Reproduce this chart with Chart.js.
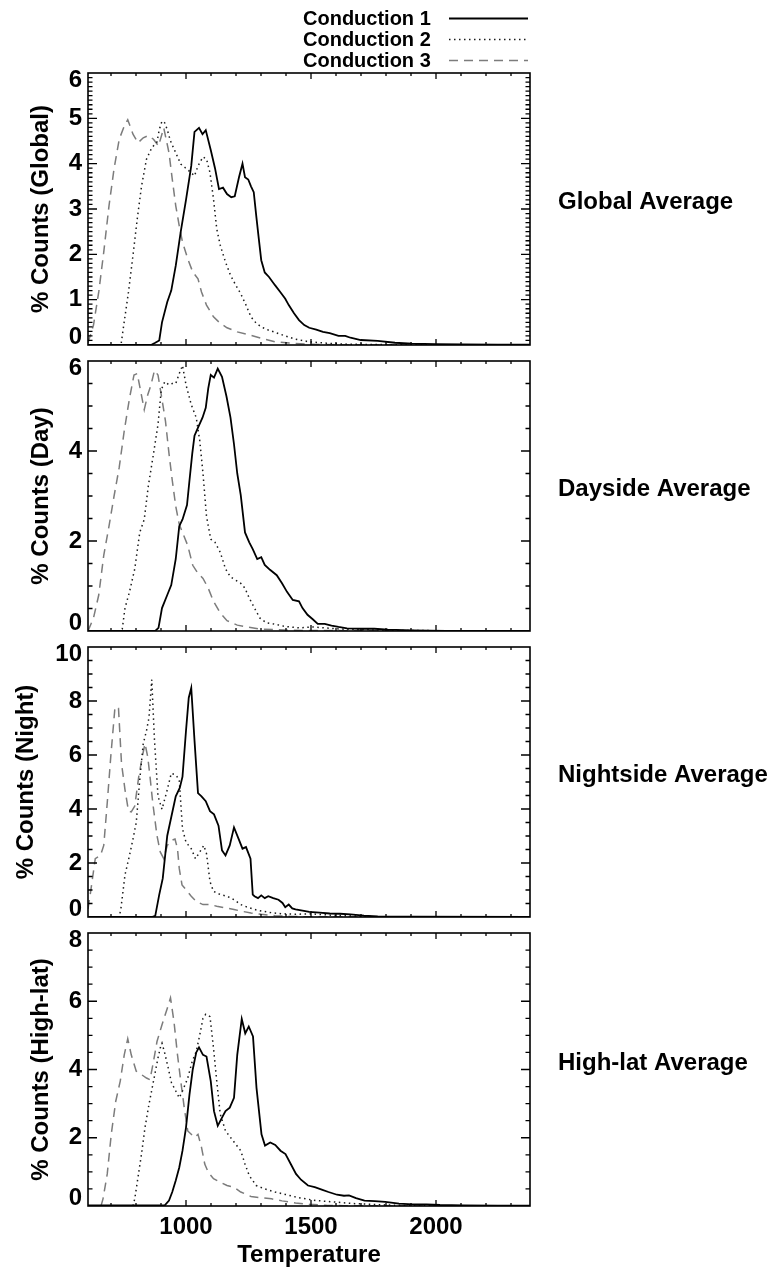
<!DOCTYPE html>
<html>
<head>
<meta charset="utf-8">
<script src="https://cdn.jsdelivr.net/npm/chart.js@4.4.1/dist/chart.umd.min.js"></script>
<style>
  html, body { margin: 0; padding: 0; background: #fff; }
  body { width: 772px; height: 1273px; position: relative; overflow: hidden; }
  canvas { position: absolute; left: 0; }
</style>
</head>
<body>
<canvas id="panelGlobal"></canvas>
<canvas id="panelDay"></canvas>
<canvas id="panelNight"></canvas>
<canvas id="panelHigh"></canvas>
<script>
// Temperature histograms, [temperature (K), % counts] per conduction case.
const seriesNames = ['Conduction 1', 'Conduction 2', 'Conduction 3'];
const panelTitles = ['% Counts (Global)', '% Counts (Day)', '% Counts (Night)', '% Counts (High-lat)'];
const panelNames = ['Global Average', 'Dayside Average', 'Nightside Average', 'High-lat Average'];
const xTickValues = [1000, 1500, 2000];

const global1 = [[608,0],[860,0],[877,0.05],[893,0.1],[904,0.5],[925,0.95],[941,1.2],[959,1.75],[979,2.5],[1000,3.2],[1021,3.95],[1034,4.7],[1052,4.79],[1066,4.65],[1079,4.74],[1099,4.3],[1116,3.9],[1132,3.44],[1148,3.47],[1164,3.33],[1181,3.26],[1195,3.28],[1212,3.7],[1226,4.0],[1236,3.7],[1249,3.65],[1260,3.5],[1271,3.37],[1281,2.85],[1290,2.4],[1301,1.87],[1315,1.6],[1332,1.5],[1356,1.32],[1377,1.17],[1397,1.02],[1411,0.88],[1432,0.7],[1452,0.55],[1473,0.44],[1493,0.38],[1521,0.34],[1548,0.29],[1575,0.26],[1610,0.2],[1637,0.2],[1658,0.16],[1699,0.11],[1767,0.09],[1836,0.05],[1904,0.03],[2000,0.02],[2110,0.015],[2247,0.01],[2376,0.005]];
const global2 = [[608,0],[740,0],[751,0.44],[770,1.17],[788,1.98],[805,2.78],[822,3.5],[842,4.1],[863,4.35],[884,4.48],[893,4.75],[904,4.94],[915,4.9],[925,4.75],[938,4.5],[959,4.24],[979,3.99],[997,3.91],[1021,3.8],[1034,3.73],[1048,3.95],[1068,4.15],[1082,4.1],[1096,3.8],[1110,3.22],[1123,2.56],[1137,2.2],[1158,1.83],[1178,1.54],[1199,1.32],[1219,1.13],[1240,0.88],[1260,0.62],[1281,0.48],[1301,0.4],[1329,0.33],[1356,0.28],[1397,0.2],[1438,0.13],[1493,0.07],[1562,0.04],[1630,0.02],[1767,0.01],[1904,0.005],[2376,0]];
const global3 = [[608,0.05],[630,0.44],[651,1.17],[671,2.05],[692,3.07],[712,3.88],[733,4.54],[753,4.83],[767,4.97],[788,4.65],[808,4.46],[829,4.57],[849,4.62],[870,4.54],[890,4.39],[911,4.79],[932,4.24],[945,3.66],[959,3.07],[973,2.63],[986,2.27],[1007,1.9],[1027,1.61],[1048,1.46],[1062,1.17],[1082,0.88],[1110,0.62],[1137,0.48],[1164,0.38],[1205,0.29],[1247,0.23],[1301,0.15],[1356,0.07],[1425,0.04],[1493,0.015],[1630,0.005],[2376,0]];

const day1 = [[608,0],[877,0],[890,0.07],[904,0.51],[925,0.8],[941,1.02],[959,1.6],[973,2.33],[986,2.48],[1004,2.8],[1014,3.35],[1025,3.94],[1034,4.34],[1048,4.52],[1066,4.74],[1079,4.96],[1089,5.39],[1099,5.69],[1112,5.63],[1127,5.83],[1144,5.65],[1162,5.21],[1178,4.74],[1192,4.15],[1205,3.5],[1219,3.02],[1236,2.19],[1253,1.97],[1267,1.82],[1285,1.6],[1301,1.64],[1315,1.47],[1336,1.36],[1363,1.24],[1384,1.06],[1404,0.87],[1427,0.69],[1452,0.66],[1466,0.51],[1486,0.36],[1507,0.26],[1527,0.16],[1555,0.16],[1582,0.12],[1610,0.09],[1644,0.06],[1699,0.05],[1753,0.05],[1808,0.03],[1904,0.015],[2041,0.005],[2376,0]];
const day2 = [[608,0],[740,0],[745,0.04],[756,0.51],[774,0.87],[795,1.38],[815,2.19],[833,2.48],[849,3.21],[870,3.94],[888,4.59],[901,5.36],[915,5.54],[932,5.47],[945,5.5],[959,5.5],[973,5.72],[986,5.9],[1000,5.47],[1021,5.03],[1041,4.74],[1055,4.23],[1068,3.5],[1082,2.55],[1099,2.04],[1116,1.97],[1137,1.75],[1158,1.38],[1178,1.2],[1199,1.13],[1219,1.06],[1236,0.95],[1253,0.73],[1274,0.51],[1295,0.29],[1322,0.18],[1356,0.15],[1397,0.1],[1452,0.07],[1507,0.09],[1575,0.06],[1630,0.04],[1767,0.02],[1904,0.01],[2376,0]];
const day3 = [[608,0],[630,0.29],[651,0.8],[671,1.68],[692,2.33],[712,2.99],[733,3.64],[753,4.45],[774,5.17],[792,5.69],[805,5.72],[819,5.32],[833,4.92],[847,5.25],[860,5.47],[874,5.79],[888,5.69],[901,5.25],[918,4.66],[932,3.94],[945,3.35],[959,2.77],[973,2.37],[986,2.19],[1007,1.9],[1027,1.46],[1048,1.28],[1068,1.17],[1089,0.95],[1110,0.66],[1137,0.4],[1164,0.23],[1205,0.13],[1247,0.09],[1301,0.04],[1356,0.03],[1425,0.015],[1493,0.01],[2376,0]];

const night1 = [[608,0],[863,0],[877,0.04],[893,0.83],[907,1.43],[925,3.01],[942,3.74],[959,4.47],[975,4.78],[986,5.2],[1000,6.9],[1011,8.12],[1021,8.48],[1034,6.54],[1048,4.59],[1062,4.47],[1079,4.29],[1096,3.92],[1112,3.8],[1130,3.38],[1144,2.47],[1158,2.28],[1175,2.65],[1192,3.32],[1208,2.95],[1226,2.53],[1240,2.59],[1258,2.16],[1267,0.83],[1274,0.77],[1288,0.7],[1301,0.8],[1315,0.7],[1329,0.77],[1349,0.7],[1370,0.64],[1386,0.52],[1397,0.36],[1411,0.46],[1425,0.32],[1438,0.28],[1466,0.24],[1493,0.19],[1534,0.16],[1575,0.13],[1616,0.12],[1658,0.1],[1712,0.05],[1767,0.02],[1904,0.01],[2376,0]];
const night2 = [[608,0],[733,0],[740,0.34],[756,1.56],[774,2.28],[788,2.89],[801,3.5],[815,5.08],[829,6.42],[842,6.9],[852,7.39],[863,8.79],[874,6.54],[888,4.47],[904,3.99],[925,4.71],[941,5.32],[959,5.26],[973,5.08],[986,3.26],[1000,2.77],[1021,2.53],[1038,2.16],[1055,2.41],[1071,2.65],[1082,2.35],[1096,1.31],[1110,0.95],[1137,0.83],[1164,0.77],[1192,0.64],[1219,0.46],[1247,0.36],[1274,0.28],[1301,0.22],[1342,0.16],[1384,0.12],[1438,0.1],[1493,0.12],[1575,0.07],[1630,0.05],[1767,0.01],[2376,0]];
const night3 = [[608,0.3],[618,0.9],[637,2.16],[658,2.28],[671,2.65],[685,4.23],[699,5.93],[716,7.78],[730,7.73],[742,5.69],[756,4.71],[770,3.92],[781,3.89],[795,4.11],[811,5.2],[825,5.93],[836,6.42],[847,5.93],[856,5.2],[867,4.23],[884,3.01],[897,2.41],[911,2.16],[925,2.65],[941,2.83],[956,2.89],[966,2.53],[973,1.8],[984,1.19],[1000,1.01],[1021,0.77],[1041,0.58],[1068,0.46],[1096,0.46],[1123,0.4],[1158,0.34],[1192,0.28],[1219,0.22],[1260,0.15],[1301,0.1],[1356,0.05],[1425,0.02],[1493,0.01],[2376,0]];

const high1 = [[608,0.02],[915,0.02],[932,0.16],[945,0.41],[959,0.75],[973,1.13],[986,1.62],[1000,2.3],[1014,3.27],[1027,4.0],[1041,4.5],[1052,4.65],[1068,4.43],[1082,4.38],[1099,3.66],[1112,2.78],[1127,2.35],[1144,2.59],[1158,2.78],[1175,2.88],[1192,3.17],[1205,4.43],[1223,5.48],[1237,5.06],[1251,5.26],[1268,4.97],[1282,3.46],[1302,2.1],[1316,1.77],[1337,1.86],[1357,1.79],[1378,1.62],[1398,1.52],[1419,1.23],[1440,0.94],[1460,0.77],[1488,0.6],[1515,0.55],[1543,0.48],[1570,0.41],[1604,0.33],[1632,0.3],[1652,0.31],[1680,0.23],[1714,0.16],[1755,0.14],[1797,0.12],[1852,0.07],[1907,0.05],[1962,0.05],[2016,0.03],[2110,0.02],[2247,0.01],[2376,0.01]];
const high2 = [[608,0],[788,0],[795,0.21],[808,0.84],[822,1.52],[836,2.3],[852,2.98],[870,3.66],[888,4.34],[897,4.63],[904,4.77],[915,4.48],[929,4.04],[942,3.61],[959,3.37],[973,3.17],[986,3.37],[1007,3.75],[1025,4.24],[1041,4.53],[1055,5.01],[1068,5.5],[1079,5.62],[1096,5.55],[1110,4.63],[1123,3.66],[1137,2.69],[1158,2.2],[1178,2.01],[1199,1.81],[1219,1.62],[1236,1.23],[1253,0.89],[1281,0.6],[1315,0.5],[1356,0.41],[1397,0.34],[1452,0.24],[1521,0.16],[1589,0.12],[1671,0.07],[1740,0.05],[1836,0.02],[1973,0.01],[2376,0]];
const high3 = [[660,0],[668,0.21],[685,0.94],[701,2.1],[719,3.07],[737,3.66],[753,4.43],[767,4.9],[781,4.43],[801,3.95],[822,3.85],[842,3.75],[856,3.7],[870,4.24],[884,4.82],[904,5.31],[925,5.79],[938,6.1],[952,5.4],[966,4.43],[979,3.66],[993,2.88],[1007,2.2],[1021,2.1],[1034,2.01],[1048,2.1],[1062,1.72],[1075,1.23],[1089,0.99],[1110,0.8],[1137,0.7],[1164,0.6],[1192,0.55],[1219,0.41],[1260,0.28],[1301,0.24],[1342,0.21],[1384,0.15],[1438,0.09],[1493,0.05],[1562,0.02],[1630,0.01],[2376,0]];

// ---- layout / style ----
const FONT = "'Liberation Sans', Arial, Helvetica, sans-serif";
const T_MIN = 608, T_MAX = 2376;
const PLOT_LEFT = 88, PLOT_RIGHT = 530, PAGE_W = 772, PAGE_H = 1273;
const EDGE = 16;

const lineStyles = [
  { borderColor: '#000000', borderWidth: 1.8, borderDash: [] },
  { borderColor: '#1a1a1a', borderWidth: 1.5, borderDash: [1.5, 3.5] },
  { borderColor: '#7c7c7c', borderWidth: 1.5, borderDash: [9, 6] }
];

const panels = [
  { id: 'panelGlobal', top: 73,  bottom: 347,  yMax: 6,  yStep: 1, yMinor: 0.1, titleX: 41, series: [global1, global2, global3] },
  { id: 'panelDay',    top: 359, bottom: 633,  yMax: 6,  yStep: 2, yMinor: 0.5, titleX: 41, series: [day1, day2, day3] },
  { id: 'panelNight',  top: 645, bottom: 919,  yMax: 10, yStep: 2, yMinor: 0.5, titleX: 26, series: [night1, night2, night3] },
  { id: 'panelHigh',   top: 931, bottom: 1206, yMax: 8,  yStep: 2, yMinor: 0.5, titleX: 41, series: [high1, high2, high3] }
];

// Keep the end labels of the value axis inside the box height.
const innerLabels = {
  id: 'innerLabels',
  beforeDraw(chart) {
    const a = chart.chartArea;
    const items = chart.scales.y.getLabelItems();
    items.forEach(it => {
      const t = it.options.translation;
      t[1] = Math.min(Math.max(t[1], a.top + 7.5), a.bottom - 7.5);
    });
  }
};

// Box frame with inward tick marks on all four sides.
const frameTicks = {
  id: 'frameTicks',
  afterDatasetsDraw(chart, args, opts) {
    const { ctx, chartArea: a, scales: { x, y } } = chart;
    ctx.save();
    ctx.strokeStyle = '#000';
    ctx.lineWidth = 1.3;
    ctx.beginPath();
    for (let v = Math.ceil(x.min / 100) * 100; v <= x.max; v += 100) {
      const px = x.getPixelForValue(v);
      const len = v % 500 === 0 ? 6 : 3;
      ctx.moveTo(px, a.bottom); ctx.lineTo(px, a.bottom - len);
      ctx.moveTo(px, a.top); ctx.lineTo(px, a.top + len);
    }
    const nMinor = Math.round(opts.yMax / opts.yMinor);
    const perMajor = Math.round(opts.yStep / opts.yMinor);
    for (let i = 1; i < nMinor; i++) {
      const py = y.getPixelForValue(i * opts.yMinor);
      const len = i % perMajor === 0 ? 9 : 4.5;
      ctx.moveTo(a.left, py); ctx.lineTo(a.left + len, py);
      ctx.moveTo(a.right, py); ctx.lineTo(a.right - len, py);
    }
    ctx.stroke();
    ctx.lineWidth = 1.6;
    ctx.strokeRect(a.left, a.top, a.right - a.left, a.bottom - a.top);
    ctx.restore();
  }
};

// Panel name written to the right of each plot box.
const sideLabel = {
  id: 'sideLabel',
  afterDraw(chart, args, opts) {
    const { ctx, chartArea: a } = chart;
    ctx.save();
    ctx.font = 'bold 24px ' + FONT;
    ctx.fillStyle = '#000';
    ctx.textAlign = 'left';
    ctx.textBaseline = 'alphabetic';
    ctx.fillText(opts.text, 558, (a.top + a.bottom) / 2);
    ctx.restore();
  }
};

// Key above the first panel: label text followed by a line sample.
const lineKey = {
  id: 'lineKey',
  afterDraw(chart, args, opts) {
    if (!opts.display) return;
    const { ctx } = chart;
    ctx.save();
    chart.data.datasets.forEach((ds, i) => {
      const base = 25 + i * 21;
      ctx.font = 'bold 20px ' + FONT;
      ctx.fillStyle = '#000';
      ctx.textAlign = 'left';
      ctx.textBaseline = 'alphabetic';
      ctx.fillText(ds.label, 303, base);
      ctx.strokeStyle = ds.borderColor;
      ctx.lineWidth = ds.borderWidth;
      ctx.setLineDash(ds.borderDash);
      ctx.beginPath();
      ctx.moveTo(449, base - 6.5);
      ctx.lineTo(528, base - 6.5);
      ctx.stroke();
    });
    ctx.restore();
  }
};

panels.forEach((p, idx) => {
  const isLast = idx === panels.length - 1;
  const canvasTop = idx === 0 ? 0 : p.top - EDGE;
  const canvasBottom = isLast ? PAGE_H : p.bottom + EDGE;
  const xAxisH = isLast ? PAGE_H - p.bottom : 0;
  const canvas = document.getElementById(p.id);
  canvas.width = PAGE_W;
  canvas.height = canvasBottom - canvasTop;
  canvas.style.top = canvasTop + 'px';

  const datasets = p.series.map((s, i) => ({
    label: seriesNames[i],
    data: s.map(([t, v]) => ({ x: t, y: v })),
    borderColor: lineStyles[i].borderColor,
    borderWidth: lineStyles[i].borderWidth,
    borderDash: lineStyles[i].borderDash,
    pointRadius: 0,
    tension: 0,
    fill: false
  }));

  new Chart(canvas, {
    type: 'line',
    data: { datasets },
    options: {
      responsive: false,
      animation: false,
      events: [],
      layout: {
        padding: { left: 0, right: PAGE_W - PLOT_RIGHT, top: p.top - canvasTop, bottom: isLast ? 0 : EDGE }
      },
      scales: {
        x: {
          type: 'linear',
          min: T_MIN,
          max: T_MAX,
          afterBuildTicks: s => { s.ticks = xTickValues.map(v => ({ value: v })); },
          afterFit: s => { s.height = xAxisH; },
          grid: { display: false, drawTicks: false },
          border: { display: false },
          ticks: {
            display: isLast,
            padding: 9.5,
            color: '#000',
            maxRotation: 0,
            callback: v => String(v),
            font: { family: FONT, size: 24, weight: 'bold', lineHeight: 1 }
          },
          title: {
            display: isLast,
            text: 'Temperature',
            color: '#000',
            padding: { top: 0, bottom: 6 },
            font: { family: FONT, size: 24, weight: 'bold', lineHeight: 1 }
          }
        },
        y: {
          min: 0,
          max: p.yMax,
          afterFit: s => { s.width = PLOT_LEFT; },
          grid: { display: false, drawTicks: false },
          border: { display: false },
          ticks: {
            stepSize: p.yStep,
            padding: 6,
            color: '#000',
            callback: v => String(v),
            font: { family: FONT, size: 24, weight: 'bold', lineHeight: 1 }
          },
          title: {
            display: true,
            text: panelTitles[idx],
            color: '#000',
            padding: { top: p.titleX - 12, bottom: 0 },
            font: { family: FONT, size: 24, weight: 'bold', lineHeight: 1 }
          }
        }
      },
      plugins: {
        legend: { display: false },
        tooltip: { enabled: false },
        frameTicks: { yMax: p.yMax, yStep: p.yStep, yMinor: p.yMinor },
        sideLabel: { text: panelNames[idx] },
        lineKey: { display: idx === 0 }
      }
    },
    plugins: [innerLabels, frameTicks, sideLabel, lineKey]
  });
});
</script>
</body>
</html>
